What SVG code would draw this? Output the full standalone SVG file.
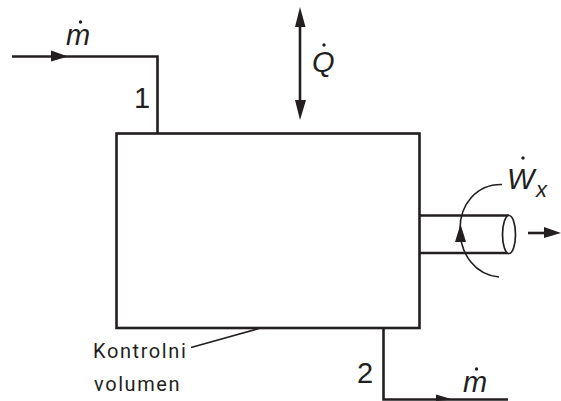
<svg xmlns="http://www.w3.org/2000/svg" width="561" height="401" viewBox="0 0 561 401">
<defs><style>
.l{fill:none;stroke:#231f20;stroke-width:2.6}
.t{fill:none;stroke:#231f20;stroke-width:1.6}
.a{fill:#231f20;stroke:none}
.s{font-family:"Liberation Sans",Arial,sans-serif;fill:#231f20}
.i{font-style:italic;font-size:29px}
.n{font-size:29px}
.k{font-family:Roboto,sans-serif;font-size:20px;fill:#231f20;letter-spacing:1.6px}
</style></defs>
<rect width="561" height="401" fill="#fff"/>
<g id="connectors">
<path class="l" d="M12 56.500H157.500V133"/>
<path class="a" d="M51 50.500L68 56.500L51 61.500Z"/>
<path class="l" d="M300 18V109"/>
<path class="a" d="M300 7L305.500 27H295Z"/>
<path class="a" d="M300 120L295 100H306Z"/>
<path class="l" d="M383.500 329V399.500H508"/>
<path class="a" d="M436 394.500L453 399.500L436 401Z"/>
<path class="t" d="M191 347.500L259 328.500"/>
<path class="l" d="M528 233H546"/>
<path class="a" d="M544 227L561 233L544 238Z"/>
</g>
<g id="control-volume"><rect class="l" x="116.500" y="133.500" width="303" height="194.500" fill="none"/></g>
<g id="shaft">
<path class="l" d="M420 215.500H509M420 253H509"/>
<ellipse cx="509" cy="234.500" rx="6.500" ry="19" fill="#fff" stroke="#231f20" stroke-width="1.700"/>
<path class="t" d="M502 184.500C476 184 460 205 460 229C460 255 476 275 499 277"/>
<path class="a" d="M460.500 224L466 242H455Z"/>
</g>
<g id="labels">
<text class="s i" x="66" y="45">m</text><circle class="a" cx="80.500" cy="22" r="1.700"/>
<text class="s i" x="312" y="72">Q</text><circle class="a" cx="324" cy="45" r="1.700"/>
<text class="s n" x="134" y="108">1</text>
<text class="s n" x="357" y="383">2</text>
<text class="s i" x="463" y="392">m</text><circle class="a" cx="476.500" cy="369" r="1.700"/>
<text class="s i" x="507" y="189">W</text><text class="s i" x="536" y="197" style="font-size:22px">x</text><circle class="a" cx="523" cy="158" r="1.700"/>
<text class="k" x="93" y="358">Kontrolni</text>
<text class="k" x="94" y="391">volumen</text>
</g>
</svg>
